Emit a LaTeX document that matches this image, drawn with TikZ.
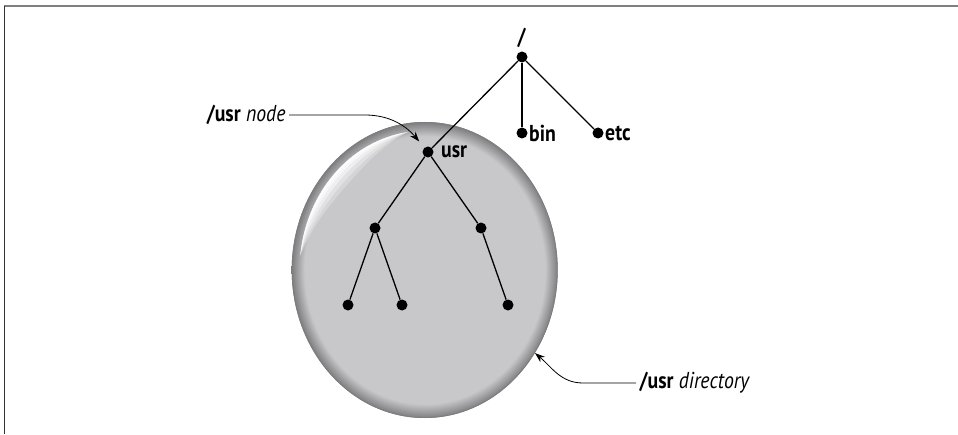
\documentclass[tikz,border=0pt]{standalone}
\usepackage{fontspec}
\setmainfont{PT Sans}[FakeStretch=0.86]
\usetikzlibrary{arrows.meta,shapes.geometric}
\definecolor{ballgray}{RGB}{200,200,202}
\definecolor{rimgray}{RGB}{125,125,127}
\pgfdeclareradialshading{ballshade}{\pgfpoint{0bp}{0bp}}{color(0bp)=(ballgray); color(22.6bp)=(ballgray); color(25bp)=(rimgray); color(50bp)=(rimgray)}
\tikzset{
	dot/.style={circle,fill=black,inner sep=0pt,minimum size=11pt},
	branch/.style={line width=1.3pt},
	callout/.style={line width=0.8pt,-{Stealth[length=10pt,width=7pt]}},
	tag/.style={font=\fontsize{23}{26}\selectfont},
}

\begin{document}
\begin{tikzpicture}[x=1pt,y=1pt]
				\useasboundingbox (0,0) rectangle (958,434);
				\draw[gray,line width=2pt] (4,427.5)--(958,427.5);
				\draw[black!80,line width=1.5pt] (4.5,0)--(4.5,428);

				% the directory ball
				\node[ellipse,minimum width=266pt,minimum height=296pt,inner sep=0pt] (ball) at (424.7,164) {};
				\shade[shading=ballshade] (ball.center) ellipse (133 and 148);
				\draw[rimgray,line width=0.8pt] (ball.center) ellipse (132.6 and 147.6);
				\begin{scope}[shift={(ball.center)}]
					\foreach \w/\op in {0.12/0.25,0.09/0.3,0.06/0.45,0.035/0.6,0.018/0.7}
						\fill[white,opacity=\op] plot[domain=98:174,samples=40,variable=\t] ({133*0.94*cos(\t)},{148*0.94*sin(\t)})
							-- plot[domain=174:98,samples=40,variable=\t] ({133*(0.94-\w*sin((\t-98)*180/76))*cos(\t)},{148*(0.94-\w*sin((\t-98)*180/76))*sin(\t)}) -- cycle;
				\end{scope}

				% tree
				\node[dot,label={[tag]above:\textbf{/}}] (root) at (522,377) {};
				\node[dot,label={[tag,label distance=-2pt]right:\textbf{bin}}] (bin) at (522,301) {};
				\node[dot,label={[tag,label distance=-2pt]right:\textbf{etc}}] (etc) at (598,301) {};
				\node[dot,label={[tag,label distance=4pt]right:\textbf{usr}}] (usr) at (428,282) {};
				\node[dot] (left) at (375,206) {};
				\node[dot] (right) at (481,206) {};
				\node[dot] (leftA) at (348,129) {};
				\node[dot] (leftB) at (402,129) {};
				\node[dot] (rightA) at (508,129) {};
				\draw[branch] (root)--(bin);
				\draw[branch] (root)--(etc);
				\draw[branch] (root)--(usr);
				\draw[branch] (usr)--(left);
				\draw[branch] (usr)--(right);
				\draw[branch] (left)--(leftA);
				\draw[branch] (left)--(leftB);
				\draw[branch] (right)--(rightA);

				% callouts
				\node[tag,anchor=east] (nodetag) at (289,319) {\textbf{/usr} \textit{node}};
				\node[tag,anchor=west] (dirtag) at (636,51) {\textbf{/usr} \textit{directory}};
				\draw[callout,shorten >=8pt] (nodetag.east)--(365,319) to[out=0,in=130] (usr);
				\draw[callout] (dirtag.west)--(583,51) to[out=180,in=-40] (ball.-37);
			\end{tikzpicture}
\end{document}
